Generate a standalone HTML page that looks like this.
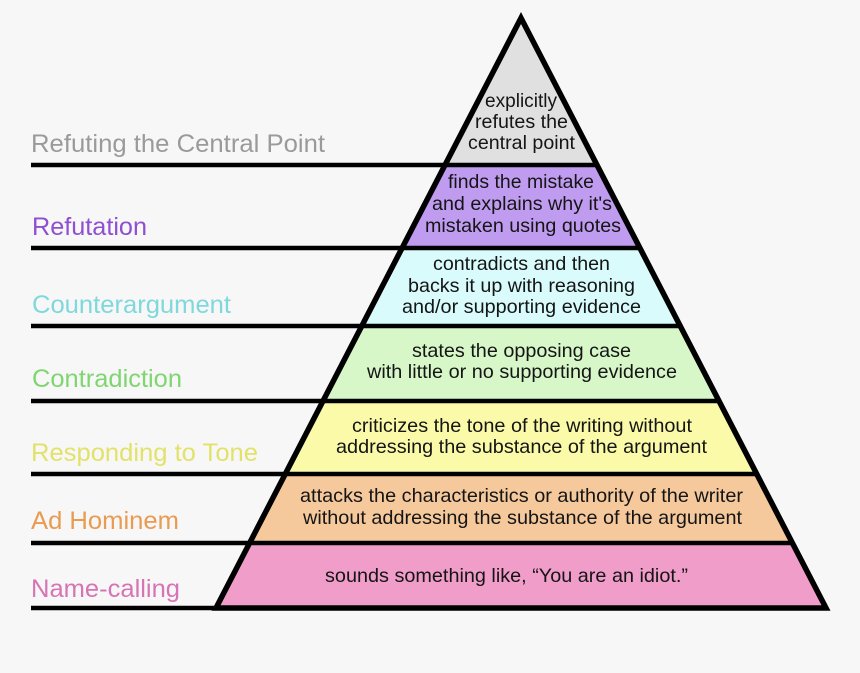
<!DOCTYPE html>
<html>
<head>
<meta charset="utf-8">
<style>
  html,body{margin:0;padding:0;background:#f7f7f7;}
  svg{display:block;}
  .b{font-family:"Liberation Sans",Arial,sans-serif;font-size:19.5px;fill:#151515;}
  .l{font-family:"Liberation Sans",Arial,sans-serif;font-size:25px;}
</style>
</head>
<body>
<svg width="860" height="673" viewBox="0 0 860 673" xmlns="http://www.w3.org/2000/svg">
  <rect x="0" y="0" width="860" height="673" fill="#f7f7f7"/>
  <!-- bands -->
  <polygon points="521,18 597,165 445,165" fill="#e0e0e0"/>
  <polygon points="445,165 597,165 640,248 402,248" fill="#c09cf1"/>
  <polygon points="402,248 640,248 680,326 362,326" fill="#d9fbfc"/>
  <polygon points="362,326 680,326 719,401 323,401" fill="#d7f7c9"/>
  <polygon points="323,401 719,401 757,474 285,474" fill="#fafaa8"/>
  <polygon points="285,474 757,474 792,543 250,543" fill="#f5c99c"/>
  <polygon points="250,543 792,543 826,608 216,608" fill="#f09dca"/>
  <!-- horizontal lines -->
  <g stroke="#000" stroke-width="4.5">
    <line x1="31" y1="165" x2="597" y2="165"/>
    <line x1="31" y1="248" x2="640" y2="248"/>
    <line x1="31" y1="326" x2="680" y2="326"/>
    <line x1="31" y1="401" x2="719" y2="401"/>
    <line x1="31" y1="474" x2="757" y2="474"/>
    <line x1="31" y1="543" x2="792" y2="543"/>
    <line x1="31" y1="608" x2="826" y2="608"/>
  </g>
  <!-- outline -->
  <polygon points="521,18 826,608 216,608" fill="none" stroke="#000" stroke-width="5.5" stroke-linejoin="miter" stroke-miterlimit="10"/>

  <!-- band text -->
  <text class="b" x="485" y="107" textLength="72" lengthAdjust="spacingAndGlyphs">explicitly</text>
  <text class="b" x="475" y="128" textLength="93" lengthAdjust="spacingAndGlyphs">refutes the</text>
  <text class="b" x="468" y="149" textLength="107" lengthAdjust="spacingAndGlyphs">central point</text>

  <text class="b" x="448" y="188" textLength="146" lengthAdjust="spacingAndGlyphs">finds the mistake</text>
  <text class="b" x="432" y="210" textLength="180" lengthAdjust="spacingAndGlyphs">and explains why it's</text>
  <text class="b" x="425" y="232" textLength="196" lengthAdjust="spacingAndGlyphs">mistaken using quotes</text>

  <text class="b" x="433" y="270" textLength="177" lengthAdjust="spacingAndGlyphs">contradicts and then</text>
  <text class="b" x="408" y="292" textLength="227" lengthAdjust="spacingAndGlyphs">backs it up with reasoning</text>
  <text class="b" x="402" y="313" textLength="239" lengthAdjust="spacingAndGlyphs">and/or supporting evidence</text>

  <text class="b" x="412" y="357" textLength="219" lengthAdjust="spacingAndGlyphs">states the opposing case</text>
  <text class="b" x="367" y="378" textLength="310" lengthAdjust="spacingAndGlyphs">with little or no supporting evidence</text>

  <text class="b" x="352" y="432" textLength="340" lengthAdjust="spacingAndGlyphs">criticizes the tone of the writing without</text>
  <text class="b" x="336" y="453" textLength="371" lengthAdjust="spacingAndGlyphs">addressing the substance of the argument</text>

  <text class="b" x="300" y="502" textLength="443" lengthAdjust="spacingAndGlyphs">attacks the characteristics or authority of the writer</text>
  <text class="b" x="303" y="524" textLength="439" lengthAdjust="spacingAndGlyphs">without addressing the substance of the argument</text>

  <text class="b" x="325" y="582" textLength="363" lengthAdjust="spacingAndGlyphs">sounds something like, “You are an idiot.”</text>

  <!-- labels -->
  <text class="l" x="31" y="152" fill="#9a9a9a" textLength="294" lengthAdjust="spacingAndGlyphs">Refuting the Central Point</text>
  <text class="l" x="32" y="235" fill="#8e4fd0" textLength="115" lengthAdjust="spacingAndGlyphs">Refutation</text>
  <text class="l" x="32" y="313" fill="#7fd8dc" textLength="199" lengthAdjust="spacingAndGlyphs">Counterargument</text>
  <text class="l" x="32" y="387" fill="#7fd670" textLength="150" lengthAdjust="spacingAndGlyphs">Contradiction</text>
  <text class="l" x="31" y="461" fill="#e2e26a" textLength="227" lengthAdjust="spacingAndGlyphs">Responding to Tone</text>
  <text class="l" x="31" y="529" fill="#ea9b52" textLength="148" lengthAdjust="spacingAndGlyphs">Ad Hominem</text>
  <text class="l" x="31" y="597" fill="#d674b4" textLength="149" lengthAdjust="spacingAndGlyphs">Name-calling</text>
</svg>
</body>
</html>
